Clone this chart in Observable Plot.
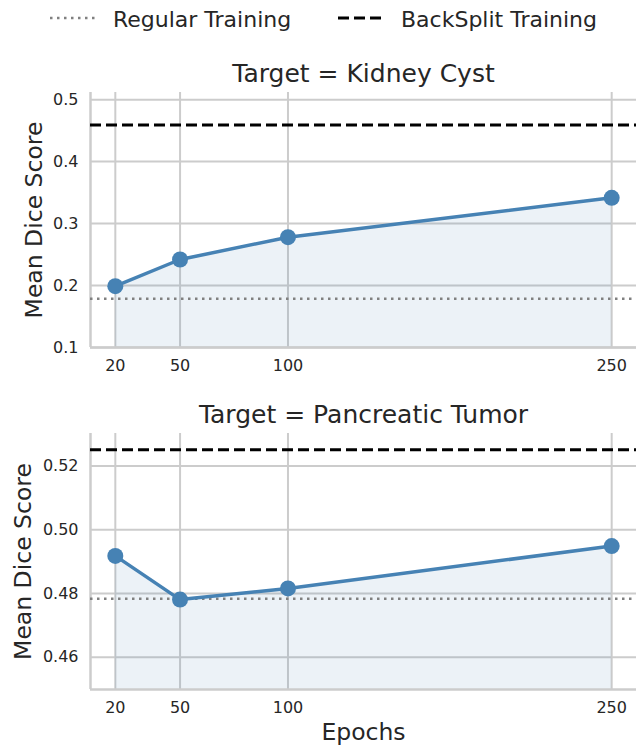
<!DOCTYPE html>
<html>
<head>
<meta charset="utf-8">
<script src="https://cdn.jsdelivr.net/npm/d3@7"></script>
<script src="https://cdn.jsdelivr.net/npm/@observablehq/plot@0.6"></script>
<style>
  html, body { margin: 0; padding: 0; background: white; }
  #chart { width: 639px; font-family: "DejaVu Sans", sans-serif; color: #262626; }
  #chart svg { display: block; }
</style>
</head>
<body>
<div id="chart"></div>
<script>
// ---- data ----
const epochs = [20, 50, 100, 250];
const kidneyDice = [0.199, 0.242, 0.278, 0.3415];
const pancreasDice = [0.4918, 0.4781, 0.4816, 0.4949];
const kidneyRegular = 0.1785;
const kidneyBacksplit = 0.459;
const pancreasRegular = 0.4784;
const pancreasBacksplit = 0.5251;
const kidneyTicks = [0.1, 0.2, 0.3, 0.4, 0.5];
const pancreasTicks = [0.46, 0.48, 0.50, 0.52];
const titles = ["Target = Kidney Cyst", "Target = Pancreatic Tumor"];
const legendLabels = ["Regular Training", "BackSplit Training"];
const yLabel = "Mean Dice Score";
const xLabel = "Epochs";

const BLUE = "#4682b4";
const GRID = "#cccccc";
const TEXT = "#262626";
const xDomain = [8.5, 261.5];

const root = document.getElementById("chart");

// ---- legend ----
const leg = d3.create("svg").attr("width", 639).attr("height", 40)
  .style("font-family", "DejaVu Sans").style("display", "block");
leg.append("line").attr("x1", 50).attr("x2", 97).attr("y1", 18).attr("y2", 18)
  .attr("stroke", "#808080").attr("stroke-width", 2.5).attr("stroke-dasharray", "2.5,4.5");
leg.append("text").attr("x", 113).attr("y", 26.7).attr("font-size", 22).attr("fill", TEXT).text(legendLabels[0]);
leg.append("line").attr("x1", 338).attr("x2", 384).attr("y1", 18).attr("y2", 18)
  .attr("stroke", "#000").attr("stroke-width", 3).attr("stroke-dasharray", "11,5");
leg.append("text").attr("x", 401).attr("y", 26.7).attr("font-size", 22).attr("fill", TEXT).text(legendLabels[1]);
root.appendChild(leg.node());

function panel({values, ticks, fmt, regular, backsplit, yDomain, title, height, marginTop, marginBottom, showX, labelDx}) {
  const rows = epochs.map((e, i) => ({epoch: e, dice: values[i]}));
  const marks = [
    Plot.gridY(ticks, {stroke: GRID, strokeOpacity: 1, strokeWidth: 2}),
    Plot.gridX(epochs, {stroke: GRID, strokeOpacity: 1, strokeWidth: 2}),
    Plot.areaY(rows, {x: "epoch", y1: () => yDomain[0], y2: "dice", fill: BLUE, fillOpacity: 0.1}),
    Plot.ruleX([xDomain[0]], {stroke: GRID, strokeWidth: 2.5}),
    Plot.ruleY([yDomain[0]], {stroke: GRID, strokeWidth: 2.5}),
    Plot.ruleY([regular], {stroke: "#808080", strokeWidth: 2.5, strokeDasharray: "2.5,4.5"}),
    Plot.ruleY([backsplit], {stroke: "#000", strokeWidth: 3, strokeDasharray: "11,5"}),
    Plot.line(rows, {x: "epoch", y: "dice", stroke: BLUE, strokeWidth: 3.5}),
    Plot.dot(rows, {x: "epoch", y: "dice", r: 8, fill: BLUE, stroke: "none"}),
    Plot.axisY(ticks, {tickSize: 0, tickPadding: 12, tickFormat: fmt, fontSize: 16, label: null}),
    Plot.axisX(epochs, {tickSize: 0, tickPadding: 12, fontSize: 16, label: null}),
    Plot.text([title], {frameAnchor: "top", dy: -19, fontSize: 25, lineAnchor: "middle", textAnchor: "middle"}),
    Plot.text([yLabel], {frameAnchor: "left", dx: labelDx, rotate: -90, fontSize: 23.5, textAnchor: "middle", lineAnchor: "middle"})
  ];
  if (showX) {
    marks.push(Plot.text([xLabel], {frameAnchor: "bottom", dy: 43, fontSize: 23.5, lineAnchor: "middle", textAnchor: "middle"}));
  }
  return Plot.plot({
    width: 639,
    height,
    marginLeft: 90,
    marginRight: 3,
    marginTop,
    marginBottom,
    style: {fontFamily: "DejaVu Sans", color: TEXT, background: "white", overflow: "visible"},
    x: {type: "linear", domain: xDomain},
    y: {type: "linear", domain: yDomain},
    marks
  });
}

root.appendChild(panel({
  values: kidneyDice, ticks: kidneyTicks, fmt: d3.format(".1f"),
  regular: kidneyRegular, backsplit: kidneyBacksplit,
  yDomain: [0.1, 0.5115], title: titles[0],
  height: 345, marginTop: 52, marginBottom: 38, showX: false, labelDx: -56
}));
root.appendChild(panel({
  values: pancreasDice, ticks: pancreasTicks, fmt: d3.format(".2f"),
  regular: pancreasRegular, backsplit: pancreasBacksplit,
  yDomain: [0.4499, 0.5302], title: titles[1],
  height: 360, marginTop: 48, marginBottom: 56, showX: true, labelDx: -67.5
}));
</script>
</body>
</html>
